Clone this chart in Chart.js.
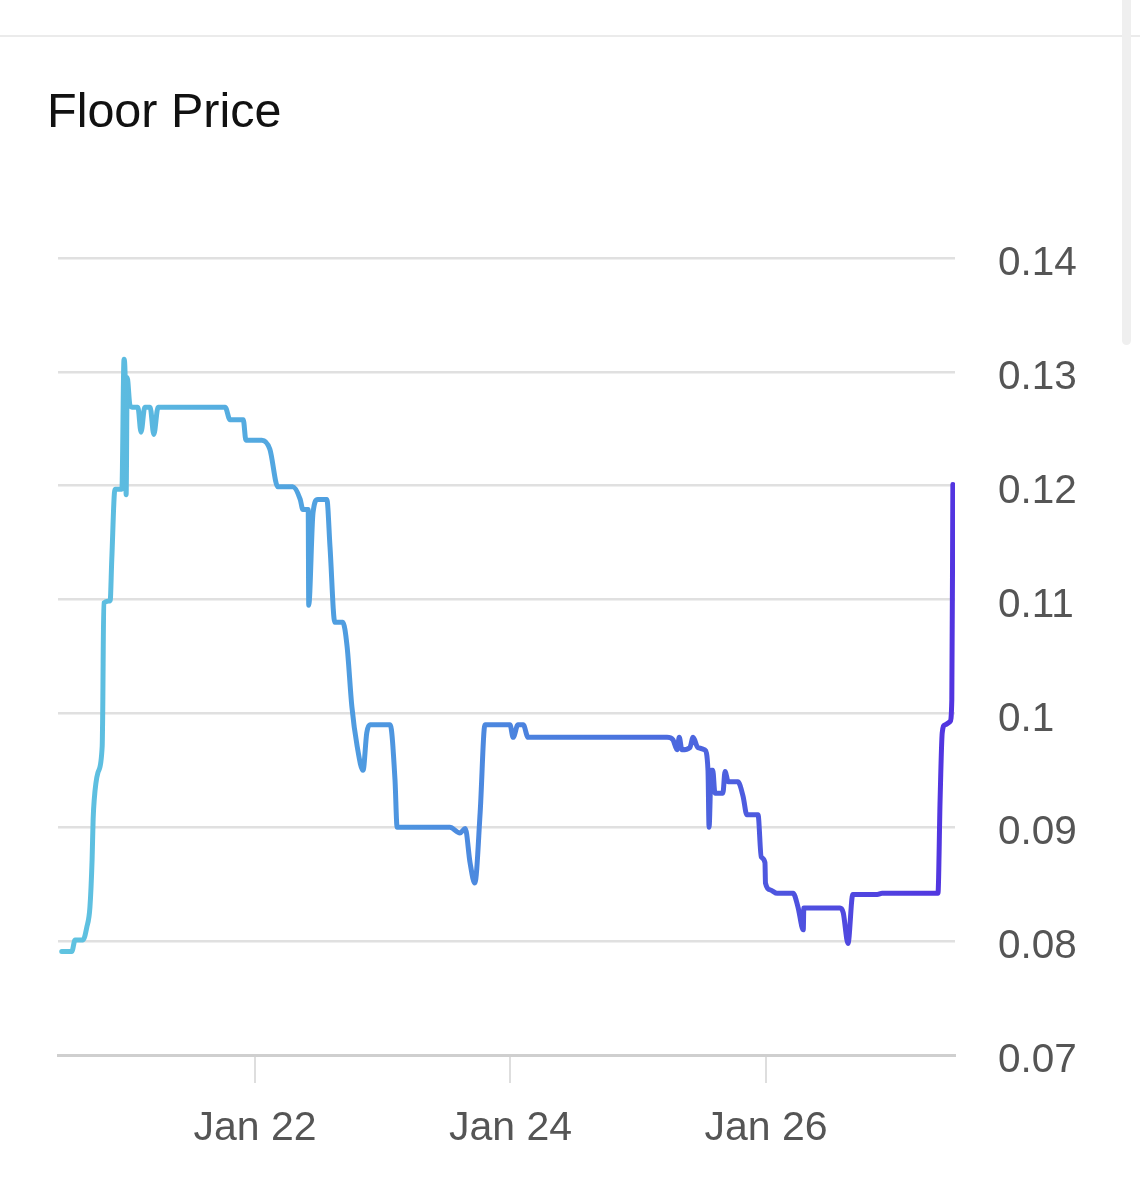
<!DOCTYPE html>
<html>
<head>
<meta charset="utf-8">
<script src="https://cdn.jsdelivr.net/npm/chart.js@4.4.1/dist/chart.umd.min.js"></script>
<style>
  html, body { margin: 0; padding: 0; background: #fff; width: 1140px; height: 1200px; overflow: hidden; }
  .rule { position: absolute; left: 0; top: 35px; width: 1140px; height: 2px; background: #ebebeb; }
  .thumb { position: absolute; left: 1122px; top: -10px; width: 9px; height: 355px; border-radius: 5px; background: #efefef; }
  h1 { position: absolute; left: 47px; top: 86px; margin: 0; font: 400 48.5px/1 "Liberation Sans", Arial, sans-serif; color: #111; }
  #wrap { position: absolute; left: 0; top: 180px; width: 1120px; height: 1020px; }
</style>
</head>
<body>
<div class="rule"></div>
<div class="thumb"></div>
<h1>Floor Price</h1>
<div id="wrap"><canvas id="chart" width="1120" height="1020"></canvas></div>
<script>
// hours since Jan 20 00:00
const hours = [
  11.7, 13.6, 14.2, 15.7, 16.4, 17.0, 17.4, 17.6, 17.8, 18.5, 19.3, 19.4, 19.6, 20.8, 21.1, 21.7,
  23.0, 23.4, 23.6, 23.8, 24.0, 24.5, 24.9, 26.0, 26.6, 27.3, 28.3, 29.0, 29.8, 42.4, 43.3, 45.8,
  46.3, 49.3, 50.8, 52.3, 55.1, 56.5, 57.0, 58.0, 58.1, 58.9, 59.8, 61.5, 62.1, 63.0, 64.5, 65.3,
  66.2, 67.2, 68.3, 69.0, 69.6, 73.4, 74.3, 74.7, 84.6, 86.5, 87.5, 88.4, 89.3, 90.3, 91.2, 95.9,
  96.5, 97.4, 98.4, 99.3, 125.4, 126.5, 127.3, 127.7, 128.2, 129.7, 130.3, 131.2, 132.5, 133.1, 133.3, 133.7,
  134.0, 134.4, 135.9, 136.3, 136.9, 138.7, 139.7, 140.4, 142.5, 143.1, 143.8, 143.9, 144.8, 146.1, 149.1, 150.0,
  151.0, 151.1, 157.9, 158.5, 159.4, 160.3, 164.9, 165.8, 176.3, 176.7, 177.1, 177.6, 178.6, 178.9, 179.1
];
const floorPrice = [
  0.0791, 0.0791, 0.0801, 0.0801, 0.0812, 0.0830, 0.0871, 0.0907, 0.0924, 0.0948, 0.0971, 0.1001, 0.1097, 0.1099, 0.1135, 0.1197,
  0.1197, 0.1311, 0.1298, 0.1192, 0.1295, 0.1271, 0.1269, 0.1269, 0.1247, 0.1269, 0.1269, 0.1245, 0.1269, 0.1269, 0.1258, 0.1258,
  0.1240, 0.1240, 0.1232, 0.1199, 0.1199, 0.1188, 0.1179, 0.1179, 0.1095, 0.1176, 0.1188, 0.1188, 0.1146, 0.1080, 0.1080, 0.1059,
  0.1006, 0.0971, 0.0950, 0.0983, 0.0990, 0.0990, 0.0942, 0.0900, 0.0900, 0.0895, 0.0899, 0.0869, 0.0851, 0.0913, 0.0990, 0.0990,
  0.0979, 0.0990, 0.0990, 0.0979, 0.0979, 0.0977, 0.0968, 0.0979, 0.0968, 0.0970, 0.0979, 0.0970, 0.0968, 0.0950, 0.0900, 0.0950,
  0.0950, 0.0930, 0.0930, 0.0949, 0.0940, 0.0940, 0.0927, 0.0911, 0.0911, 0.0874, 0.0869, 0.0851, 0.0845, 0.0842, 0.0842, 0.0830,
  0.0810, 0.0829, 0.0829, 0.0825, 0.0798, 0.0841, 0.0841, 0.0842, 0.0842, 0.0924, 0.0983, 0.0990, 0.0993, 0.1012, 0.1201
];
const xTickHours = [48, 96, 144];
const xTickLabels = ['Jan 22', 'Jan 24', 'Jan 26'];
const yMin = 0.07, yMax = 0.14, yStep = 0.01;

const FONT = '"Liberation Sans", Arial, sans-serif';

function lineGradient(context) {
  const { ctx, chartArea } = context.chart;
  if (!chartArea) return '#4a86de';
  const g = ctx.createLinearGradient(chartArea.left, 0, chartArea.right, 0);
  g.addColorStop(0, '#60c4e0');
  g.addColorStop(0.3, '#4f9fe0');
  g.addColorStop(0.6, '#4a78de');
  g.addColorStop(1, '#5234e0');
  return g;
}

new Chart(document.getElementById('chart'), {
  type: 'line',
  data: {
    datasets: [{
      data: hours.map((h, i) => ({ x: h, y: floorPrice[i] })),
      borderColor: lineGradient,
      borderWidth: 5,
      pointRadius: 0,
      cubicInterpolationMode: 'monotone',
      borderJoinStyle: 'round',
      borderCapStyle: 'round',
      fill: false,
    }],
  },
  options: {
    responsive: false,
    animation: false,
    events: [],
    layout: { padding: { left: 58, top: 78, right: 0, bottom: 0 } },
    plugins: { legend: { display: false }, tooltip: { enabled: false } },
    scales: {
      x: {
        type: 'linear',
        min: 11,
        max: 179.5,
        afterBuildTicks: axis => { axis.ticks = xTickHours.map(v => ({ value: v })); },
        afterFit: axis => { axis.height = 145; },
        grid: { drawOnChartArea: false, drawTicks: true, tickLength: 28, color: '#dedede', lineWidth: 2 },
        border: { color: '#cfcfcf', width: 3 },
        ticks: {
          padding: 21,
          maxRotation: 0,
          color: '#555',
          font: { family: FONT, size: 41 },
          callback: v => xTickLabels[xTickHours.indexOf(v)] || '',
        },
      },
      y: {
        position: 'right',
        min: yMin,
        max: yMax,
        afterFit: axis => { axis.width = 165; },
        grid: { drawTicks: false, color: '#e0e0e0', lineWidth: 2.5 },
        border: { display: false },
        ticks: {
          stepSize: yStep,
          padding: 43,
          labelOffset: 6,
          color: '#555',
          font: { family: FONT, size: 40.5 },
          callback: v => String(+v.toFixed(2)),
        },
      },
    },
  },
});
</script>
</body>
</html>
